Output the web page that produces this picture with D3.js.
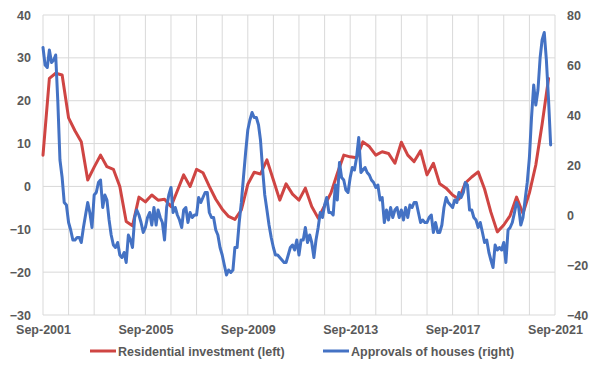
<!DOCTYPE html>
<html>
<head>
<meta charset="utf-8">
<script src="https://cdn.jsdelivr.net/npm/d3@7/dist/d3.min.js"></script>
<style>
  html, body { margin: 0; padding: 0; background: #ffffff; }
  svg { display: block; }
</style>
</head>
<body>
<svg id="chart" width="598" height="385"></svg>
<script>
// ---- Data ----
// Residential investment (left axis), quarterly, from Sep-2001
const residentialInvestment = [
  7.3, 25.2, 26.4, 26.0, 16.0, 13.0, 10.4, 1.5, 4.5, 7.3,
  4.6, 4.0, 0.0, -8.2, -9.2, -2.5, -3.6, -2.0, -3.2, -3.0,
  -4.7, -1.0, 2.7, 0.0, 4.0, 3.2, 0.0, -3.0, -5.3, -7.0,
  -7.7, -5.5, 0.5, 3.3, 2.9, 6.2, 1.5, -3.2, 0.6, -1.8,
  -3.2, -0.4, -4.7, -7.4, -4.5, -1.5, 3.0, 7.3, 6.9, 6.7,
  10.4, 9.3, 7.3, 8.1, 7.7, 5.4, 10.3, 7.3, 5.8, 8.3,
  2.7, 5.4, 0.6, -0.4, -2.0, -3.0, 0.8, 2.2, 3.4, -0.6,
  -6.0, -10.6, -9.0, -6.8, -2.5, -6.3, -1.5, 5.0, 14.5, 25.2
];
// Approvals of houses (right axis), monthly, from Sep-2001
const approvalsOfHouses = [
  67, 60, 59, 66, 61, 62, 64, 45, 22, 15,
  5, 4, -3, -6, -10, -10, -9, -9, -11, -5,
  0, 5, 1, -5, 8, 9, 13, 14, 3, 8,
  6, -2, -8, -12, -13, -11, -16, -17, -15, -19,
  -8, -10, -13, -1, 2, 0, -3, -7, -5, -1,
  1, -4, 3, -4, 2, -1, -3, -10, 3, 8,
  11, 1, 3, 0, -2, -5, 2, 3, -3, 1,
  -1, 0, 0, 7, 5, 7, 9, 9, 1, -1,
  -1, -6, -8, -13, -16, -20, -24, -22, -23, -22,
  -13, -13, -3, 5, 15, 25, 34, 38, 41, 39,
  39, 36, 30, 18, 8, 2, -4, -9, -13, -16,
  -16, -17, -18, -19, -19, -16, -13, -12, -14, -10,
  -16, -10, -10, -5, -11, -8, -11, -17, -10, -5,
  1, -1, 4, 7, 1, 1, 0, 12, 6, 21,
  15, 14, 10, 9, 15, 19, 18, 23, 31, 17,
  18, 19, 17, 16, 14, 13, 11, 12, 6, 7,
  -3, 2, -2, 3, -1, 2, 3, -1, 2, -2,
  3, -1, 4, 3, 5, 5, 1, -3, -2, -3,
  -3, -1, 0, -7, -3, -7, -7, -4, 3, 7,
  5, 4, 3, 6, 5, 9, 7, 9, 13, 12,
  2, 2, -1, -2, -5, -3, -7, -11, -10, -15,
  -18, -21, -12, -14, -13, -14, -11, -19, -6, -5,
  -3, 1, 5, 3, -4, -1, 6, 13, 23, 39,
  52, 44, 50, 63, 70, 73, 62, 46, 28
];
const leftTicks = [-30, -20, -10, 0, 10, 20, 30, 40];
const rightTicks = [-40, -20, 0, 20, 40, 60, 80];
const xTickLabels = ["Sep-2001", "Sep-2005", "Sep-2009", "Sep-2013", "Sep-2017", "Sep-2021"];
const seriesNames = ["Residential investment (left)", "Approvals of houses (right)"];

// ---- Layout ----
const svg = d3.select("#chart");
const plot = { left: 43, right: 555, top: 15, bottom: 315 };
const colors = { red: "#cf4543", blue: "#4472c4", grid: "#d9d9d9", text: "#595959" };
const fontFamily = "'Liberation Sans', Arial, sans-serif";

const start = new Date(2001, 8, 1);
const end = new Date(2021, 8, 1);
const x = d3.scaleTime().domain([start, end]).range([plot.left, plot.right]);
const yL = d3.scaleLinear().domain([-30, 40]).range([plot.bottom, plot.top]);
const yR = d3.scaleLinear().domain([-40, 80]).range([plot.bottom, plot.top]);

const monthDate = i => new Date(2001, 8 + i, 1);
const quarterDate = i => new Date(2001, 8 + 3 * i, 1);

// gridlines
const years = d3.range(0, 21).map(i => new Date(2001 + i, 8, 1));
const grid = svg.append("g");
grid.selectAll("line.v").data(years).join("line")
  .attr("x1", d => x(d)).attr("x2", d => x(d))
  .attr("y1", plot.top).attr("y2", plot.bottom)
  .attr("stroke", colors.grid).attr("stroke-width", 1);
grid.selectAll("line.h").data(leftTicks).join("line")
  .attr("x1", plot.left).attr("x2", plot.right)
  .attr("y1", d => yL(d)).attr("y2", d => yL(d))
  .attr("stroke", colors.grid).attr("stroke-width", 1);

// axes
const axisStyle = g => {
  g.select(".domain").remove();
  g.selectAll(".tick line").remove();
  g.selectAll("text")
    .attr("fill", colors.text)
    .attr("font-family", fontFamily)
    .attr("font-weight", "bold")
    .attr("font-size", "12.5px");
};
svg.append("g")
  .attr("transform", `translate(${plot.left - 12},0)`)
  .call(d3.axisLeft(yL).tickValues(leftTicks).tickSize(0).tickPadding(0).tickFormat(d3.format("d")))
  .call(axisStyle);
svg.append("g")
  .attr("transform", `translate(${plot.right + 12},0)`)
  .call(d3.axisRight(yR).tickValues(rightTicks).tickSize(0).tickPadding(0).tickFormat(d3.format("d")))
  .call(axisStyle);
const xTickDates = xTickLabels.map(s => new Date(+s.slice(4), 8, 1));
svg.append("g")
  .attr("transform", `translate(0,${plot.bottom + 6})`)
  .call(d3.axisBottom(x).tickValues(xTickDates).tickSize(0).tickPadding(4)
    .tickFormat((d, i) => xTickLabels[i]))
  .call(axisStyle);

// lines
const lineRed = d3.line().x((d, i) => x(quarterDate(i))).y(d => yL(d));
const lineBlue = d3.line().x((d, i) => x(monthDate(i))).y(d => yR(d));
svg.append("path").datum(residentialInvestment)
  .attr("d", lineRed).attr("fill", "none").attr("stroke", colors.red)
  .attr("stroke-width", 3).attr("stroke-linejoin", "round").attr("stroke-linecap", "round");
svg.append("path").datum(approvalsOfHouses)
  .attr("d", lineBlue).attr("fill", "none").attr("stroke", colors.blue)
  .attr("stroke-width", 3).attr("stroke-linejoin", "round").attr("stroke-linecap", "round");

// legend
const legendItems = [
  { name: seriesNames[0], color: colors.red, x: 90 },
  { name: seriesNames[1], color: colors.blue, x: 323 }
];
const lg = svg.append("g");
legendItems.forEach(it => {
  lg.append("line").attr("x1", it.x).attr("x2", it.x + 26)
    .attr("y1", 351).attr("y2", 351)
    .attr("stroke", it.color).attr("stroke-width", 3);
  lg.append("text").attr("x", it.x + 28).attr("y", 355.5)
    .attr("fill", colors.text).attr("font-family", fontFamily)
    .attr("font-weight", "bold").attr("font-size", "12.5px")
    .text(it.name);
});
</script>
</body>
</html>
